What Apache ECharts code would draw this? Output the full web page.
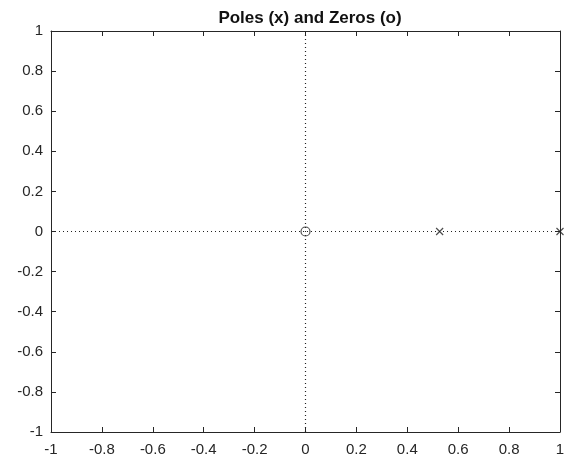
<!DOCTYPE html>
<html>
<head>
<meta charset="utf-8">
<script src="https://cdn.jsdelivr.net/npm/echarts@6/dist/echarts.min.js"></script>
<style>
  html, body { margin: 0; padding: 0; background: #fff; }
  #chart { width: 574px; height: 457px; }
</style>
</head>
<body>
<div id="chart"></div>
<script>
// Pole-zero map of the transfer function
const zeros = [[0, 0]];
const poles = [[0.527, 0], [1, 0]];
const realAxisLine = [[-1, 0], [1, 0]];
const imagAxisLine = [[0, -1], [0, 1]];
const xTicks = [-1, -0.8, -0.6, -0.4, -0.2, 0, 0.2, 0.4, 0.6, 0.8, 1];
const yTicks = [-1, -0.8, -0.6, -0.4, -0.2, 0, 0.2, 0.4, 0.6, 0.8, 1];

const axisColor = '#262626';
const fontFamily = '"Liberation Sans", Arial, sans-serif';

const fmt = v => String(+(+v).toFixed(1));

function axis(ticks, opts, labelMargin) {
  return Object.assign({
    type: 'value',
    min: ticks[0],
    max: ticks[ticks.length - 1],
    interval: 0.2,
    splitLine: { show: false },
    axisLine: { show: true, onZero: false, lineStyle: { color: axisColor, width: 1 } },
    axisTick: { show: true, inside: true, length: 5, lineStyle: { color: axisColor } },
    axisLabel: { show: true, color: axisColor, fontSize: 15, fontFamily, margin: labelMargin, formatter: fmt }
  }, opts);
}

const chart = echarts.init(document.getElementById('chart'), null, { renderer: 'canvas' });
chart.setOption({
  animation: false,
  backgroundColor: '#fff',
  title: {
    text: 'Poles (x) and Zeros (o)',
    left: 305, top: 5, textAlign: 'center',
    textStyle: { fontSize: 17, fontWeight: 'bold', color: '#111', fontFamily }
  },
  grid: { left: 51, right: 14, top: 31, bottom: 25, containLabel: false },
  xAxis: [
    axis(xTicks, { position: 'bottom' }, 10),
    axis(xTicks, { position: 'top', axisLabel: { show: false } }, 10)
  ],
  yAxis: [
    axis(yTicks, { position: 'left' }, 8),
    axis(yTicks, { position: 'right', axisLabel: { show: false } }, 8)
  ],
  series: [
    {
      type: 'line', data: realAxisLine, symbol: 'none',
      lineStyle: { type: [1, 3], color: '#222', width: 1.2 }, silent: true
    },
    {
      type: 'line', data: imagAxisLine, symbol: 'none',
      lineStyle: { type: [1, 3], color: '#222', width: 1.2 }, silent: true
    },
    {
      type: 'scatter', data: zeros, symbol: 'circle', symbolSize: 9,
      itemStyle: { color: 'none', borderColor: '#222', borderWidth: 1.2 }
    },
    {
      type: 'scatter', data: poles,
      symbol: 'path://M0,0L10,10M10,0L0,10', symbolSize: 7,
      itemStyle: { color: 'none', borderColor: '#222', borderWidth: 1.2 }
    }
  ]
});
</script>
</body>
</html>
